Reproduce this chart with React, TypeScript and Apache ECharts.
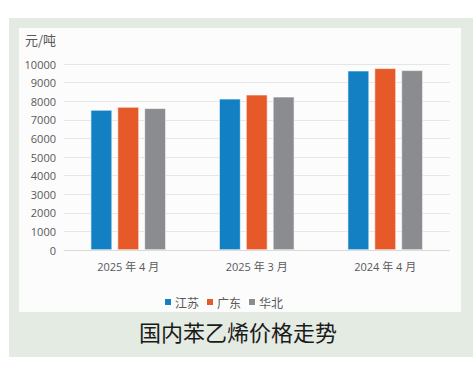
import React, { useEffect, useRef } from "react";
import * as echarts from "echarts";

const categories = ["2025 年 4 月", "2025 年 3 月", "2024 年 4 月"];
const seriesNames = ["江苏", "广东", "华北"];
const jiangsu = [7530, 8130, 9640];
const guangdong = [7690, 8350, 9770];
const huabei = [7620, 8240, 9660];
const colors = ["#1280c3", "#e55a28", "#8a8c8f"];
const unitLabel = "元/吨";
const chartTitle = "国内苯乙烯价格走势";

export default function App() {
  const ref = useRef<HTMLDivElement>(null);
  useEffect(() => {
    if (!ref.current) return;
    const chart = echarts.init(ref.current, undefined, { renderer: "svg" });
    const data = [jiangsu, guangdong, huabei];
    chart.setOption({
      animation: false,
      backgroundColor: "#ffffff",
      textStyle: { fontFamily: "'Open Sans', 'Noto Sans CJK SC', sans-serif" },
      graphic: [
        { type: "rect", z: -10, silent: true, shape: { x: 9, y: 18, width: 464, height: 339 }, style: { fill: "#e4ebe2" } },
        { type: "rect", z: -9, silent: true, shape: { x: 19, y: 28, width: 442, height: 284 }, style: { fill: "#fcfcfc" } },
        {
          type: "text", left: 25, top: 33,
          style: { text: unitLabel, fontSize: 13, fill: "#595959", fontFamily: "'Noto Sans CJK SC', sans-serif" },
        },
        {
          type: "text", left: "center", top: 320,
          style: { text: chartTitle, fontSize: 22, fill: "#1a1a1a", fontFamily: "'Noto Sans CJK SC', sans-serif" },
        },
      ],
      legend: {
        left: 158,
        top: 291,
        itemWidth: 8,
        itemHeight: 8,
        itemGap: 6,
        icon: "rect",
        textStyle: { fontSize: 12, color: "#595959", fontFamily: "'Noto Sans CJK SC', sans-serif", padding: [0, 0, 0, -2] },
        data: seriesNames,
      },
      grid: { left: 64, right: 26.5, top: 64, bottom: 119 },
      xAxis: {
        type: "category",
        data: categories,
        axisLine: { lineStyle: { color: "#d9d9d9", width: 1 } },
        axisTick: { show: false },
        axisLabel: { color: "#595959", fontSize: 11, margin: 11, fontFamily: "'Open Sans', 'Noto Sans CJK SC', sans-serif" },
      },
      yAxis: {
        type: "value",
        min: 0,
        max: 10000,
        interval: 1000,
        axisLine: { show: false },
        axisTick: { show: false },
        axisLabel: { color: "#595959", fontSize: 11, margin: 8, formatter: (v: number) => String(v) },
        splitLine: { lineStyle: { color: "#e6e6e6", width: 1 } },
      },
      series: seriesNames.map((name, i) => ({
        name,
        type: "bar",
        data: data[i],
        barWidth: 21.5,
        barGap: "25%",
        itemStyle: { color: colors[i], borderColor: "#ffffff", borderWidth: 0.6 },
      })),
    });
    return () => chart.dispose();
  }, []);
  return <div ref={ref} style={{ position: "absolute", left: 0, top: 0, width: 476, height: 369 }} />;
}
